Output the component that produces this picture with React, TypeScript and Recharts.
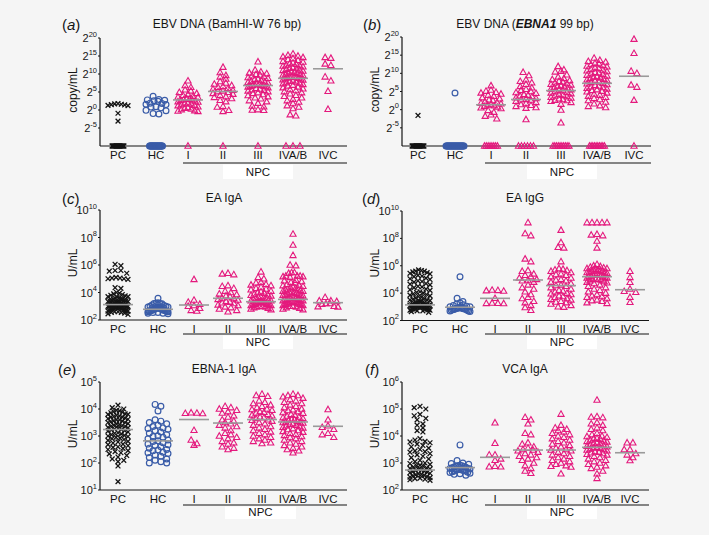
import React from 'react';
import { ScatterChart, Scatter, XAxis, YAxis } from 'recharts';

const N = null;
const GROUPS = ['PC', 'HC', 'I', 'II', 'III', 'IVA/B', 'IVC'];

// ---------- (a) EBV DNA (BamHI-W 76 bp), log2 copy/mL ----------
const bamPC = [1.8, 1.6, 1.5, 1.4, 1.3, 1.7, 1.2, -0.9, -3.1];
const bamHC = [3.8, 2.8, 2.6, 2.4, 2.7, 2.9, 1.8, 1.6, 1.5, 1.9, 0.8, 0.6, 0.9, -0.2, -0.1, -1.0, -1.1];
const bamI = [8.1, 6.8, 6.3, 5.6, 5.3, 4.9, 4.6, 4.4, 4.1, 3.8, 3.6, 3.5, 3.2, 3.0, 2.9, 2.8, 2.7, 2.5, 2.3, 2.2, 2.0, 1.8, 1.7, 1.5, 1.3, 1.2, 0.9, 0.7, 0.5, 0.3, 0.1, -0.2, -0.3, -0.4];
const bamII = [11.9, 10.4, 9.6, 9.2, 8.6, 7.9, 7.5, 7.2, 6.8, 6.6, 6.3, 6.0, 5.8, 5.5, 5.3, 5.1, 4.9, 4.6, 4.4, 4.1, 3.7, 3.5, 3.2, 2.7, 2.3, 1.0, 0.8, -0.1, -0.4];
const bamIII = [13.4, 11.1, 10.6, 10.3, 10.1, 9.9, 9.7, 9.5, 9.3, 9.0, 8.8, 8.6, 8.5, 8.2, 8.0, 7.8, 7.7, 7.5, 7.3, 7.2, 7.0, 6.9, 6.8, 6.7, 6.6, 6.5, 6.4, 6.2, 6.0, 5.8, 5.6, 5.5, 5.3, 5.1, 4.8, 4.6, 4.3, 4.0, 3.7, 3.4, 3.1, 2.6, 2.3, 1.9, 1.1, 0.9, 0.1, 0.0, -0.1];
const bamIVAB = [15.6, 15.2, 15.0, 14.8, 14.6, 14.3, 14.0, 13.8, 13.5, 13.3, 13.1, 12.9, 12.7, 12.5, 12.3, 12.2, 12.0, 11.8, 11.6, 11.5, 11.3, 11.1, 11.0, 10.8, 10.6, 10.5, 10.3, 10.2, 10.0, 9.9, 9.7, 9.6, 9.4, 9.3, 9.1, 9.0, 8.9, 8.8, 8.7, 8.6, 8.4, 8.3, 8.1, 8.0, 7.8, 7.6, 7.5, 7.3, 7.1, 6.9, 6.7, 6.4, 6.2, 5.9, 5.7, 5.4, 5.1, 4.8, 4.5, 4.1, 3.8, 3.4, 3.0, 2.6, 2.2, 1.8, 1.2, 0.8, 0.4, -1.3, -1.6];
const bamIVC = [14.6, 14.4, 12.8, 12.4, 9.2, 8.1, 5.2, 0.2];
const bamUndetected = [24, 24, 1, 1, 1, 3, 0];
const bamMedian = [N, N, 2.8, 5.15, 6.8, 8.8, 11.45];

// ---------- (b) EBV DNA (EBNA1 99 bp), log2 copy/mL ----------
const ebnPC = [-1.6];
const ebnHC = [4.6];
const ebnI = [6.6, 5.4, 5.1, 4.8, 4.6, 4.3, 4.0, 3.7, 3.3, 3.0, 2.7, 2.5, 2.2, 2.0, 1.8, 1.6, 1.4, 1.3, 1.1, 0.9, 0.7, 0.5, 0.3, -0.2, -0.7, -1.4, -1.8, -2.5];
const ebnII = [10.3, 9.4, 8.2, 7.8, 7.4, 7.0, 6.4, 6.0, 5.6, 5.3, 5.0, 4.7, 4.5, 4.2, 4.0, 3.8, 3.6, 3.3, 3.1, 2.9, 2.7, 2.5, 2.3, 2.0, 1.7, 1.4, 1.2, 0.9, 0.6, 0.4, -2.7];
const ebnIII = [11.9, 11.0, 10.6, 10.4, 9.6, 9.0, 8.6, 8.3, 8.0, 7.8, 7.6, 7.4, 7.2, 7.0, 6.8, 6.6, 6.5, 6.3, 6.1, 5.9, 5.7, 5.5, 5.4, 5.2, 5.0, 4.8, 4.6, 4.4, 4.2, 4.0, 3.8, 3.6, 3.4, 3.2, 3.0, 2.8, 2.6, 2.5, 2.3, 2.0, 1.5, -0.1, -3.6];
const ebnIVAB = [14.2, 13.6, 13.3, 13.1, 12.8, 12.6, 12.4, 12.2, 12.0, 11.8, 11.5, 11.3, 11.1, 10.9, 10.7, 10.5, 10.3, 10.1, 9.9, 9.7, 9.5, 9.3, 9.1, 9.0, 8.8, 8.6, 8.4, 8.2, 8.0, 7.9, 7.7, 7.5, 7.3, 7.1, 6.9, 6.7, 6.5, 6.3, 6.1, 5.9, 5.7, 5.5, 5.3, 5.1, 4.9, 4.6, 4.3, 4.0, 3.7, 3.4, 3.1, 2.8, 2.5, 2.1, 1.6, 1.1, 0.9, 0.6];
const ebnIVC = [19.4, 15.5, 10.6, 10.0, 6.8, 6.2, 2.6];
const ebnUndetected = [24, 28, 8, 6, 10, 10, 1];
const ebnMedian = [N, N, 1.35, 2.8, 5.25, 7.26, 9.2];

// ---------- (c) EA IgA, log10 U/mL ----------
const eaaPC = [6.05, 5.95, 5.6, 5.6, 5.55, 5.4, 5.1, 5.05, 5.05, 5.0, 5.0, 4.95, 4.35, 4.3, 4.0, 3.95, 3.9, 3.85, 3.8, 3.75, 3.7, 3.7, 3.65, 3.6, 3.6, 3.55, 3.5, 3.5, 3.45, 3.45, 3.4, 3.4, 3.35, 3.35, 3.3, 3.3, 3.3, 3.25, 3.25, 3.2, 3.2, 3.2, 3.15, 3.15, 3.15, 3.1, 3.1, 3.1, 3.05, 3.05, 3.05, 3.0, 3.0, 3.0, 2.95, 2.95, 2.95, 2.9, 2.9, 2.9, 2.85, 2.85, 2.85, 2.8, 2.8, 2.8, 2.75, 2.75, 2.7, 2.7, 2.7, 2.65, 2.65, 2.6, 2.6, 2.55, 2.55, 2.5, 2.45, 2.4];
const eaaHC = [3.58, 3.25, 3.2, 3.2, 3.18, 3.22, 3.1, 3.05, 3.0, 3.0, 2.95, 2.95, 2.9, 2.9, 2.9, 2.85, 2.85, 2.85, 2.8, 2.8, 2.8, 2.8, 2.75, 2.75, 2.75, 2.75, 2.7, 2.7, 2.7, 2.7, 2.65, 2.65, 2.65, 2.6, 2.6, 2.6, 2.55, 2.55, 2.5, 2.5, 2.45];
const eaaI = [4.95, 3.45, 3.3, 3.15, 3.05, 3.0, 2.85, 2.7, 2.65];
const eaaII = [5.4, 5.35, 5.3, 4.5, 4.45, 4.3, 4.1, 4.0, 3.9, 3.85, 3.75, 3.7, 3.6, 3.55, 3.5, 3.45, 3.35, 3.3, 3.25, 3.2, 3.1, 3.05, 2.95, 2.9, 2.8, 2.7, 2.6];
const eaaIII = [5.5, 5.1, 5.0, 4.75, 4.7, 4.6, 4.55, 4.5, 4.4, 4.3, 4.25, 4.2, 4.1, 4.05, 4.0, 3.95, 3.9, 3.85, 3.8, 3.75, 3.7, 3.65, 3.6, 3.55, 3.5, 3.5, 3.45, 3.4, 3.4, 3.35, 3.3, 3.3, 3.25, 3.25, 3.2, 3.2, 3.15, 3.15, 3.1, 3.1, 3.05, 3.05, 3.0, 3.0, 2.95, 2.95, 2.9, 2.85, 2.8, 2.75];
const eaaIVAB = [8.25, 7.45, 6.7, 6.0, 5.95, 5.45, 5.45, 5.4, 5.2, 5.2, 5.15, 5.2, 5.1, 5.15, 4.9, 4.85, 4.8, 4.75, 4.7, 4.6, 4.55, 4.5, 4.45, 4.4, 4.35, 4.3, 4.25, 4.2, 4.2, 4.15, 4.1, 4.1, 4.05, 4.0, 4.0, 3.95, 3.9, 3.9, 3.85, 3.8, 3.8, 3.75, 3.7, 3.7, 3.65, 3.6, 3.6, 3.55, 3.5, 3.5, 3.45, 3.45, 3.4, 3.4, 3.35, 3.35, 3.3, 3.3, 3.25, 3.25, 3.2, 3.2, 3.15, 3.15, 3.1, 3.1, 3.05, 3.05, 3.0, 3.0, 2.95, 2.9, 2.85, 2.8, 2.75];
const eaaIVC = [3.65, 3.4, 3.4, 3.35, 3.2, 3.2, 3.15, 3.0, 2.97, 2.95];
const eaaMedian = [3.12, 2.78, 3.09, 3.58, 3.33, 3.5, 3.26];

// ---------- (d) EA IgG, log10 U/mL ----------
const eagPC = [5.7, 5.65, 5.6, 5.6, 5.55, 5.5, 5.45, 5.4, 5.3, 5.25, 5.2, 5.1, 5.05, 5.0, 4.9, 4.85, 4.8, 4.7, 4.65, 4.6, 4.5, 4.45, 4.4, 4.3, 4.25, 4.2, 4.1, 4.05, 4.0, 3.95, 3.9, 3.85, 3.8, 3.75, 3.7, 3.65, 3.6, 3.55, 3.5, 3.5, 3.45, 3.4, 3.4, 3.35, 3.3, 3.3, 3.25, 3.25, 3.2, 3.2, 3.15, 3.15, 3.1, 3.1, 3.1, 3.05, 3.05, 3.05, 3.0, 3.0, 3.0, 3.0, 2.95, 2.95, 2.95, 2.9, 2.9, 2.9, 2.9, 2.85, 2.85, 2.85, 2.8, 2.8, 2.8, 2.75, 2.75, 2.7, 2.7, 2.65, 2.6];
const eagHC = [5.2, 3.62, 3.38, 3.3, 3.2, 3.15, 3.1, 3.05, 3.0, 3.0, 2.95, 2.95, 2.9, 2.9, 2.9, 2.85, 2.85, 2.85, 2.8, 2.8, 2.8, 2.75, 2.75, 2.7, 2.7, 2.65];
const eagI = [4.22, 4.2, 4.18, 4.15, 3.62, 3.28, 3.26, 3.25, 3.24];
const eagII = [9.15, 8.35, 8.2, 6.5, 6.3, 5.65, 5.6, 5.4, 5.3, 5.2, 5.1, 5.0, 4.95, 4.9, 4.8, 4.6, 4.4, 4.3, 4.1, 3.9, 3.7, 3.6, 3.4, 3.3, 3.1, 2.95, 2.75];
const eagIII = [8.6, 7.7, 7.35, 7.3, 6.3, 5.8, 5.75, 5.7, 5.65, 5.6, 5.5, 5.4, 5.35, 5.3, 5.2, 5.1, 5.0, 4.95, 4.9, 4.8, 4.7, 4.6, 4.55, 4.5, 4.4, 4.3, 4.2, 4.15, 4.1, 4.0, 3.95, 3.9, 3.8, 3.75, 3.7, 3.6, 3.55, 3.5, 3.4, 3.35, 3.3, 3.2, 3.1, 3.0, 2.97];
const eagIVAB = [9.15, 9.15, 9.15, 9.15, 9.15, 8.3, 8.25, 8.2, 7.8, 7.3, 6.1, 6.0, 5.95, 5.9, 5.85, 5.8, 5.8, 5.75, 5.7, 5.7, 5.65, 5.6, 5.6, 5.55, 5.5, 5.5, 5.45, 5.4, 5.4, 5.35, 5.3, 5.3, 5.25, 5.2, 5.2, 5.15, 5.1, 5.1, 5.05, 5.0, 5.0, 4.95, 4.9, 4.85, 4.8, 4.75, 4.7, 4.6, 4.5, 4.4, 4.3, 4.2, 4.1, 4.0, 3.9, 3.8, 3.75, 3.7, 3.6, 3.5, 3.45, 3.4, 3.3, 3.25];
const eagIVC = [5.59, 5.15, 4.79, 4.3, 4.13, 4.06, 3.7, 3.33];
const eagMedian = [3.14, 2.97, 3.62, 4.96, 4.55, 5.2, 4.25];

// ---------- (e) EBNA-1 IgA, log10 U/mL ----------
const ebaPC = [4.14, 4.05, 4.0, 3.95, 3.93, 3.9, 3.88, 3.86, 3.82, 3.8, 3.8, 3.76, 3.74, 3.72, 3.7, 3.7, 3.66, 3.64, 3.62, 3.6, 3.6, 3.56, 3.55, 3.52, 3.5, 3.5, 3.46, 3.44, 3.42, 3.4, 3.38, 3.36, 3.35, 3.32, 3.3, 3.28, 3.26, 3.24, 3.22, 3.2, 3.18, 3.15, 3.12, 3.1, 3.08, 3.05, 3.02, 3.0, 2.98, 2.95, 2.92, 2.9, 2.87, 2.84, 2.8, 2.78, 2.74, 2.7, 2.68, 2.64, 2.6, 2.58, 2.54, 2.5, 2.46, 2.42, 2.38, 2.34, 2.28, 2.22, 2.15, 2.1, 2.05, 1.89, 1.31];
const ebaHC = [4.17, 4.1, 3.93, 3.6, 3.55, 3.5, 3.45, 3.4, 3.35, 3.3, 3.28, 3.25, 3.2, 3.15, 3.1, 3.05, 3.0, 2.98, 2.95, 2.9, 2.85, 2.82, 2.8, 2.75, 2.7, 2.68, 2.65, 2.6, 2.55, 2.5, 2.48, 2.45, 2.4, 2.38, 2.35, 2.3, 2.25, 2.2, 2.15, 2.1, 2.05, 2.0, 2.0];
const ebaI = [3.85, 3.84, 3.83, 3.86, 3.21, 2.85, 2.66, 2.72];
const ebaII = [4.1, 4.05, 4.0, 3.95, 3.9, 3.85, 3.75, 3.7, 3.6, 3.55, 3.5, 3.45, 3.4, 3.35, 3.3, 3.2, 3.1, 3.05, 3.0, 2.95, 2.9, 2.8, 2.75, 2.7, 2.6, 2.55, 2.5];
const ebaIII = [4.55, 4.5, 4.47, 4.3, 4.25, 4.2, 4.15, 4.1, 4.05, 4.0, 3.98, 3.95, 3.9, 3.88, 3.85, 3.8, 3.78, 3.75, 3.7, 3.68, 3.65, 3.6, 3.58, 3.55, 3.5, 3.45, 3.4, 3.35, 3.3, 3.25, 3.2, 3.15, 3.1, 3.05, 3.0, 2.95, 2.9, 2.85, 2.8, 2.75, 2.72];
const ebaIVAB = [4.55, 4.5, 4.5, 4.45, 4.4, 4.35, 4.3, 4.25, 4.2, 4.15, 4.1, 4.05, 4.0, 3.97, 3.94, 3.9, 3.87, 3.84, 3.8, 3.77, 3.74, 3.7, 3.68, 3.65, 3.62, 3.6, 3.58, 3.55, 3.52, 3.5, 3.5, 3.48, 3.45, 3.43, 3.4, 3.38, 3.35, 3.32, 3.3, 3.27, 3.24, 3.2, 3.17, 3.14, 3.1, 3.06, 3.02, 2.98, 2.94, 2.9, 2.85, 2.8, 2.75, 2.7, 2.65, 2.6, 2.55, 2.5, 2.45, 2.38];
const ebaIVC = [3.98, 3.6, 3.38, 3.32, 3.25, 3.1, 3.05, 2.95];
const ebaMedian = [3.24, 2.82, 3.61, 3.48, 3.61, 3.52, 3.36];

// ---------- (f) VCA IgA, log10 U/mL ----------
const vcaPC = [5.1, 5.05, 5.0, 4.8, 4.75, 4.65, 4.6, 4.45, 4.4, 4.3, 4.2, 4.15, 3.9, 3.85, 3.8, 3.78, 3.75, 3.7, 3.65, 3.6, 3.55, 3.5, 3.45, 3.42, 3.4, 3.35, 3.3, 3.25, 3.2, 3.15, 3.1, 3.05, 3.0, 2.98, 2.95, 2.92, 2.9, 2.88, 2.85, 2.82, 2.8, 2.78, 2.76, 2.74, 2.72, 2.7, 2.68, 2.66, 2.64, 2.62, 2.6, 2.58, 2.56, 2.54, 2.52, 2.5, 2.48, 2.46, 2.44, 2.42, 2.4, 2.38, 2.36];
const vcaHC = [3.67, 3.09, 3.0, 2.98, 2.95, 2.92, 2.9, 2.9, 2.88, 2.86, 2.85, 2.84, 2.82, 2.8, 2.8, 2.78, 2.76, 2.75, 2.74, 2.72, 2.7, 2.7, 2.68, 2.66, 2.65, 2.62, 2.6, 2.58, 2.55];
const vcaI = [4.49, 3.73, 3.3, 3.3, 3.15, 3.1, 2.88, 2.86, 2.86];
const vcaII = [4.69, 4.6, 4.45, 4.1, 4.05, 3.75, 3.7, 3.6, 3.55, 3.5, 3.48, 3.45, 3.4, 3.35, 3.3, 3.25, 3.2, 3.15, 3.1, 3.0, 2.9, 2.8, 2.7, 2.62];
const vcaIII = [4.81, 4.4, 4.3, 4.25, 4.2, 4.15, 4.1, 4.05, 4.0, 3.95, 3.9, 3.85, 3.8, 3.75, 3.7, 3.65, 3.6, 3.55, 3.5, 3.48, 3.45, 3.4, 3.35, 3.3, 3.25, 3.2, 3.15, 3.1, 3.05, 3.0, 2.95, 2.9, 2.88, 2.85, 2.6];
const vcaIVAB = [5.33, 4.72, 4.7, 4.68, 4.5, 4.45, 4.4, 4.3, 4.25, 4.2, 4.1, 4.05, 4.0, 3.98, 3.95, 3.92, 3.9, 3.88, 3.85, 3.82, 3.8, 3.78, 3.75, 3.72, 3.7, 3.68, 3.65, 3.62, 3.6, 3.58, 3.56, 3.55, 3.52, 3.5, 3.48, 3.45, 3.42, 3.4, 3.38, 3.35, 3.32, 3.3, 3.25, 3.2, 3.15, 3.1, 3.05, 3.0, 2.95, 2.9, 2.85, 2.8, 2.7, 2.6, 2.43];
const vcaIVC = [3.75, 3.75, 3.5, 3.5, 3.35, 3.3, 3.2, 3.09];
const vcaMedian = [2.74, 2.83, 3.21, 3.48, 3.48, 3.58, 3.38];

const NONE = [0, 0, 0, 0, 0, 0, 0];

const PANELS = [
  { letter: 'a', title: 'EBV DNA (BamHI-W 76 bp)', yLabel: 'copy/mL', base: '2', yDomain: [-10, 20], yTicks: [-5, 0, 5, 10, 15, 20],
    groups: [bamPC, bamHC, bamI, bamII, bamIII, bamIVAB, bamIVC], undetected: bamUndetected, medians: bamMedian },
  { letter: 'b', title: 'EBNA1', yLabel: 'copy/mL', base: '2', yDomain: [-10, 20], yTicks: [-5, 0, 5, 10, 15, 20],
    groups: [ebnPC, ebnHC, ebnI, ebnII, ebnIII, ebnIVAB, ebnIVC], undetected: ebnUndetected, medians: ebnMedian },
  { letter: 'c', title: 'EA IgA', yLabel: 'U/mL', base: '10', yDomain: [2, 10], yTicks: [2, 4, 6, 8, 10],
    groups: [eaaPC, eaaHC, eaaI, eaaII, eaaIII, eaaIVAB, eaaIVC], undetected: NONE, medians: eaaMedian },
  { letter: 'd', title: 'EA IgG', yLabel: 'U/mL', base: '10', yDomain: [2, 10], yTicks: [2, 4, 6, 8, 10],
    groups: [eagPC, eagHC, eagI, eagII, eagIII, eagIVAB, eagIVC], undetected: NONE, medians: eagMedian },
  { letter: 'e', title: 'EBNA-1 IgA', yLabel: 'U/mL', base: '10', yDomain: [1, 5], yTicks: [1, 2, 3, 4, 5],
    groups: [ebaPC, ebaHC, ebaI, ebaII, ebaIII, ebaIVAB, ebaIVC], undetected: NONE, medians: ebaMedian },
  { letter: 'f', title: 'VCA IgA', yLabel: 'U/mL', base: '10', yDomain: [2, 6], yTicks: [2, 3, 4, 5, 6],
    groups: [vcaPC, vcaHC, vcaI, vcaII, vcaIII, vcaIVAB, vcaIVC], undetected: NONE, medians: vcaMedian },
];

const LAYOUT = [
  { axisX: 100, axisEnd: 347, top: 38, bottom: 146, centers: [118, 156, 188, 223, 258, 293, 328], zeroHalf: [6, 6.5, 0, 0, 0, 7, 0],
    npcLine: 163, npcText: 172, box: [223, 293], titleX: 227, titleY: 24, letterX: 62, letterY: 24, yLabelX: 73 },
  { axisX: 402, axisEnd: 651, top: 37, bottom: 146, centers: [418, 455, 491, 526, 561, 597, 634], zeroHalf: [6, 9, 6.5, 7.5, 8, 7.5, 0],
    npcLine: 163, npcText: 172, box: [527, 597], titleX: 525, titleY: 24, letterX: 363, letterY: 24, yLabelX: 375 },
  { axisX: 100, axisEnd: 347, top: 210, bottom: 320, centers: [118, 158, 194, 228, 261, 293, 328], zeroHalf: NONE,
    npcLine: 334, npcText: 342, box: [223, 293], titleX: 224, titleY: 198, letterX: 62, letterY: 198, yLabelX: 73 },
  { axisX: 402, axisEnd: 649, top: 210.5, bottom: 320, centers: [420, 460, 495, 528, 561, 597, 630], zeroHalf: NONE,
    npcLine: 334, npcText: 342, box: [527, 597], titleX: 525, titleY: 198, letterX: 362, letterY: 198, yLabelX: 375 },
  { axisX: 100, axisEnd: 347, top: 382, bottom: 490, centers: [118, 158, 194, 228, 262, 293, 328], zeroHalf: NONE,
    npcLine: 505, npcText: 512, box: [225, 296], titleX: 224, titleY: 369, letterX: 58, letterY: 369, yLabelX: 73 },
  { axisX: 402, axisEnd: 649, top: 382, bottom: 490, centers: [420, 460, 495, 528, 561, 597, 630], zeroHalf: NONE,
    npcLine: 505, npcText: 512, box: [527, 597], titleX: 525, titleY: 369, letterX: 365, letterY: 369, yLabelX: 375 },
];

const FONT = '"Liberation Sans", Arial, Helvetica, sans-serif';
const PINK = '#e4197d';
const BLUE = '#3a5ca8';
const BLACK = '#151515';
const GREY = '#9a9a9a';
const BG = '#f5f5f5';
const YW = 44, MT = 8, MR = 6, XH = 26;
const ROW_H = 4.2, SPACING = 5.8, MAX_HALF = 10;

type Pt = { x: number; y: number };

function layoutGroup(vals: number[], nd: number, center: number, floor: number, ppu: number, zeroHalf: number): Pt[] {
  const out: Pt[] = [];
  if (nd > 0) {
    const s = nd > 1 ? (2 * zeroHalf) / (nd - 1) : 0;
    for (let i = 0; i < nd; i++) out.push({ x: center + (i - (nd - 1) / 2) * s, y: floor });
  }
  const sorted = [...vals].sort((a, b) => b - a);
  let row: number[] = [];
  let rowTop = 0;
  const flush = () => {
    const n = row.length;
    const s = n > 1 ? Math.min(SPACING, (2 * MAX_HALF) / (n - 1)) : 0;
    const slots = row.map((_, i) => (i - (n - 1) / 2) * s);
    const order = [...slots].sort((a, b) => Math.abs(a) - Math.abs(b) || a - b);
    row.forEach((v, i) => out.push({ x: center + order[i], y: v }));
    row = [];
  };
  for (const v of sorted) {
    if (row.length === 0) rowTop = v;
    else if ((rowTop - v) * ppu > ROW_H) { flush(); rowTop = v; }
    row.push(v);
  }
  if (row.length) flush();
  return out;
}

const Cross = (p: any) => {
  const { cx, cy } = p; const r = 2.4;
  return <path d={`M${cx - r},${cy - r}L${cx + r},${cy + r}M${cx - r},${cy + r}L${cx + r},${cy - r}`} stroke={BLACK} strokeWidth={1.3} fill="none" />;
};
const Ring = (p: any) => <circle cx={p.cx} cy={p.cy} r={2.9} stroke={BLUE} strokeWidth={1.2} fill="none" />;
const Tri = (p: any) => {
  const { cx, cy } = p;
  return <path d={`M${cx},${cy - 3.3}L${cx + 3.1},${cy + 2.2}L${cx - 3.1},${cy + 2.2}Z`} stroke={PINK} strokeWidth={1.1} fill="none" />;
};
const Median = (p: any) => <line x1={p.cx - 15} x2={p.cx + 15} y1={p.cy} y2={p.cy} stroke={GREY} strokeWidth={1.6} />;

function Panel({ p, L }: { p: any; L: any }) {
  const plotW = L.axisEnd - L.axisX;
  const plotH = L.bottom - L.top;
  const ppu = plotH / (p.yDomain[1] - p.yDomain[0]);
  const ticks: number[] = L.centers.map((c: number) => c - L.axisX);
  const series = p.groups.map((vals: number[], gi: number) =>
    layoutGroup(vals, p.undetected[gi], ticks[gi], p.yDomain[0], ppu, L.zeroHalf[gi]));
  const npc = series.slice(2).flat();
  const meds = p.medians.map((m: number | null, gi: number) => (m == null ? null : { x: ticks[gi], y: m })).filter(Boolean);
  return (
    <div style={{ position: 'absolute', left: L.axisX - YW, top: L.top - MT }}>
      <ScatterChart width={YW + plotW + MR} height={MT + plotH + XH} margin={{ top: MT, right: MR, bottom: 0, left: 0 }}>
        <XAxis type="number" dataKey="x" domain={[0, plotW]} ticks={ticks} interval={0} tickLine={false} tickSize={0} tickMargin={0}
          height={XH} stroke={BLACK} axisLine={{ stroke: BLACK, strokeWidth: 1.2 }}
          tick={(t: any) => (
            <text x={t.x} y={t.y + 12.8} textAnchor="middle" fontSize={11.5} fontFamily={FONT} fill={BLACK}>
              {GROUPS[ticks.indexOf(t.payload.value)]}
            </text>
          )} />
        <YAxis type="number" dataKey="y" domain={p.yDomain} ticks={p.yTicks} interval={0} width={YW} tickSize={2} tickMargin={1}
          stroke={BLACK} axisLine={{ stroke: BLACK, strokeWidth: 1.2 }}
          tick={(t: any) => (
            <text x={t.x} y={t.y + 4} textAnchor="end" fontSize={11} fontFamily={FONT} fill={BLACK}>
              <tspan>{p.base}</tspan><tspan dy={-5.5} fontSize={7.5}>{t.payload.value}</tspan>
            </text>
          )} />
        <Scatter data={series[0]} shape={Cross} isAnimationActive={false} />
        <Scatter data={series[1]} shape={Ring} isAnimationActive={false} />
        <Scatter data={npc} shape={Tri} isAnimationActive={false} />
        <Scatter data={meds} shape={Median} isAnimationActive={false} />
      </ScatterChart>
    </div>
  );
}

function Annotations() {
  return (
    <svg width={709} height={535} style={{ position: 'absolute', left: 0, top: 0, pointerEvents: 'none' }} fontFamily={FONT}>
      {PANELS.map((p, i) => {
        const L = LAYOUT[i];
        const cy = (L.top + L.bottom) / 2 - 2;
        return (
          <g key={p.letter}>
            <text x={L.letterX} y={L.letterY + 5.5} fontSize={15} fill={BLACK}>(<tspan fontStyle="italic">{p.letter}</tspan>)</text>
            {p.letter === 'b' ? (
              <text x={L.titleX} y={L.titleY + 4.3} fontSize={12} textAnchor="middle" fill={BLACK}>
                EBV DNA (<tspan fontWeight="bold" fontStyle="italic">EBNA1</tspan> 99 bp)
              </text>
            ) : (
              <text x={L.titleX} y={L.titleY + 4.3} fontSize={12} textAnchor="middle" fill={BLACK}>{p.title}</text>
            )}
            <text x={L.yLabelX} y={cy} fontSize={12} textAnchor="middle" dominantBaseline="central" fill={BLACK}
              transform={`rotate(-90 ${L.yLabelX} ${cy})`}>{p.yLabel}</text>
            <line x1={L.axisX + 83} x2={L.axisEnd} y1={L.npcLine} y2={L.npcLine} stroke={BLACK} strokeWidth={1.2} />
            <rect x={L.box[0]} y={L.npcLine + 1.5} width={L.box[1] - L.box[0]} height={L.npcText + 7 - L.npcLine - 1.5} fill="#ffffff" />
            <text x={(L.box[0] + L.box[1]) / 2} y={L.npcText + 4.2} fontSize={11.5} textAnchor="middle" fill={BLACK}>NPC</text>
          </g>
        );
      })}
    </svg>
  );
}

export default function App() {
  return (
    <div style={{ position: 'absolute', left: 0, top: 0, width: 709, height: 535, background: BG, overflow: 'hidden', fontFamily: FONT }}>
      {PANELS.map((p, i) => <Panel key={p.letter} p={p} L={LAYOUT[i]} />)}
      <Annotations />
    </div>
  );
}
